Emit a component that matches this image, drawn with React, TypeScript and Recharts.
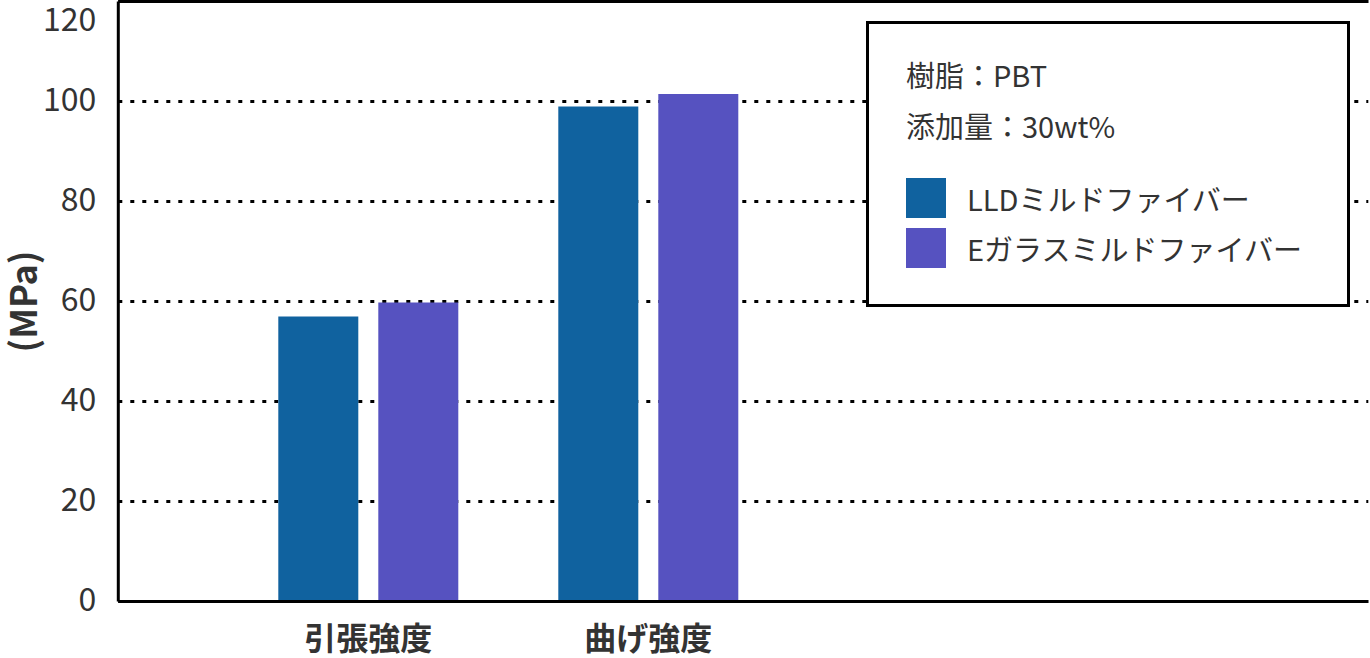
import { Bar, BarChart, CartesianGrid, Legend, ReferenceLine, XAxis, YAxis } from "recharts";

const categories = ["引張強度", "曲げ強度"];
const lldValues = [57, 99];
const eGlassValues = [59.8, 101.5];
const yTicks = [0, 20, 40, 60, 80, 100, 120];
const noteLines = ["樹脂：PBT", "添加量：30wt%"];
const seriesNames = ["LLDミルドファイバー", "Eガラスミルドファイバー"];
const seriesColors = ["#10629f", "#5652c0"];

const data = categories.map((name, i) => ({
  name,
  lld: lldValues[i],
  eglass: eGlassValues[i],
}));

const font = '"Noto Sans CJK JP", "Noto Sans", sans-serif';
const frame = { stroke: "#000", strokeWidth: 3 };

const YTick = (props: any) => {
  const { x, y, payload } = props;
  // the top label sits below the frame edge, as in the original
  const shift = payload.value === 120 ? 12 : 0;
  return (
    <text x={x} y={y + shift} dy="0.3em" textAnchor="end" fontSize={32} fill="#333" fontFamily={font}>
      {payload.value}
    </text>
  );
};

const XTick = (props: any) => {
  const { x, y, payload } = props;
  return (
    <text x={x} y={y} dy="0.71em" textAnchor="middle" fontSize={32} fontWeight={700} fill="#333" fontFamily={font}>
      {payload.value}
    </text>
  );
};

const LegendBox = () => (
  <div style={{ fontFamily: font, color: "#333", fontSize: 29, position: "relative", width: "100%", height: "100%" }}>
    {noteLines.map((line, i) => (
      <div key={line} style={{ position: "absolute", left: 37, top: 30 + i * 51, lineHeight: "40px", whiteSpace: "nowrap" }}>
        {line}
      </div>
    ))}
    {seriesNames.map((name, i) => (
      <div key={name} style={{ position: "absolute", left: 37, top: 154 + i * 50, display: "flex", alignItems: "center", whiteSpace: "nowrap" }}>
        <span style={{ display: "inline-block", width: 40, height: 40, background: seriesColors[i], marginRight: 21 }} />
        <span style={{ lineHeight: "40px" }}>{name}</span>
      </div>
    ))}
  </div>
);

export default function App() {
  return (
    <div style={{ position: "absolute", left: 0, top: 0, background: "#fff" }}>
      <BarChart
        width={1370}
        height={658}
        data={data}
        margin={{ top: 1.5, right: 1.7, left: 0, bottom: 0 }}
        barSize={80}
        barGap={20}
      >
        <CartesianGrid vertical={false} stroke="#000" strokeWidth={3} strokeDasharray="4 8" />
        <XAxis
          dataKey="name"
          height={56.5}
          padding={{ left: 110, right: 580 }}
          axisLine={frame}
          tickLine={false}
          tickSize={0}
          tickMargin={26}
          tick={<XTick />}
        />
        <YAxis
          width={118.3}
          domain={[0, 120]}
          ticks={yTicks}
          axisLine={frame}
          tickLine={false}
          tickSize={0}
          tickMargin={22}
          tick={<YTick />}
          label={({ viewBox }: any) => (
            <text
              x={21}
              y={viewBox.y + viewBox.height / 2}
              transform={`rotate(-90, 21, ${viewBox.y + viewBox.height / 2})`}
              textAnchor="middle"
              dominantBaseline="central"
              fontSize={36}
              fontWeight={700}
              fill="#333"
              fontFamily={font}
            >
              (MPa)
            </text>
          )}
        />
        <YAxis yAxisId="right" orientation="right" width={0} domain={[0, 120]} axisLine={frame} tickLine={false} tick={false} />
        <Bar dataKey="lld" name={seriesNames[0]} fill={seriesColors[0]} isAnimationActive={false} />
        <Bar dataKey="eglass" name={seriesNames[1]} fill={seriesColors[1]} isAnimationActive={false} />
        {/* solid top edge of the plot frame */}
        <ReferenceLine y={120} stroke="#000" strokeWidth={3} ifOverflow="visible" />
        <Legend
          layout="vertical"
          align="center"
          verticalAlign="middle"
          content={<LegendBox />}
          wrapperStyle={{
            position: "absolute",
            left: 866,
            top: 21,
            width: 484,
            height: 286,
            border: "3px solid #000",
            boxSizing: "border-box",
            background: "#fff",
          }}
        />
      </BarChart>
    </div>
  );
}
